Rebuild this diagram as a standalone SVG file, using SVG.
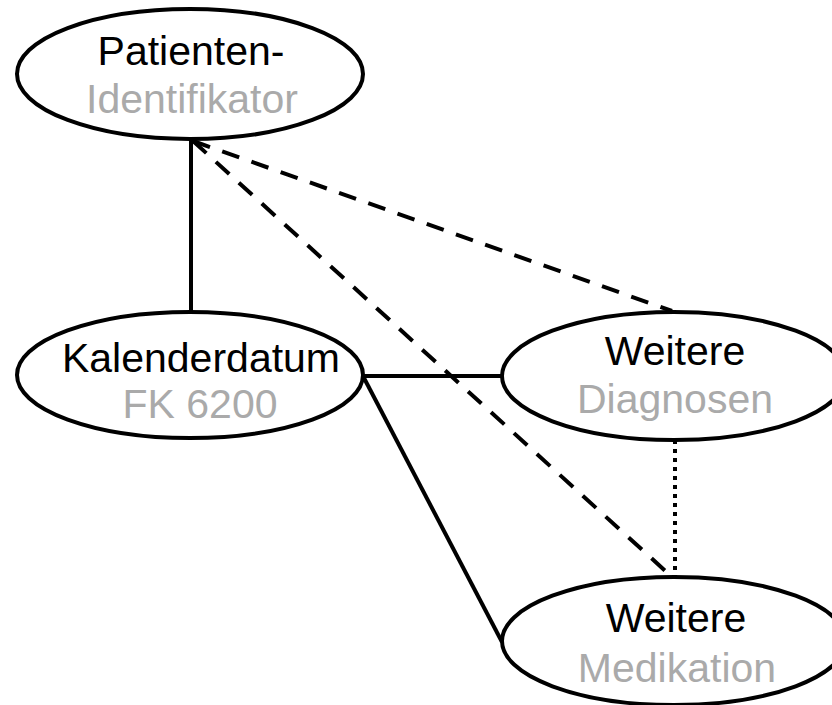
<svg xmlns="http://www.w3.org/2000/svg" width="832" height="705" viewBox="0 0 832 705">
<style>
.node ellipse{fill:#fff;stroke:#000;stroke-width:4}
text{font-family:"Liberation Sans",Arial,sans-serif;font-size:41px;text-anchor:middle}
.t1{fill:#000}
.t2{fill:#aaaaaa}
.solid{stroke:#000;stroke-width:4;fill:none}
.dash{stroke:#000;stroke-width:4;fill:none;stroke-dasharray:18 13}
.dot{stroke:#000;stroke-width:4;fill:none;stroke-dasharray:4 5}
</style>
<rect width="832" height="705" fill="#fff"/>
<g id="connectors">
<line class="solid" x1="191" y1="140" x2="191" y2="311"/>
<line class="dash" x1="193" y1="141" x2="672" y2="311"/>
<line class="dash" x1="193" y1="141" x2="672" y2="577"/>
<line class="solid" x1="363" y1="376" x2="502" y2="376"/>
<line class="solid" x1="364" y1="378" x2="502" y2="642"/>
<line class="dot" x1="675" y1="440" x2="675" y2="577"/>
</g>
<g id="patienten" class="node">
<ellipse cx="190" cy="74" rx="173" ry="65"/>
<text class="t1" x="191" y="65">Patienten-</text>
<text class="t2" x="192" y="113">Identifikator</text>
</g>
<g id="kalenderdatum" class="node">
<ellipse cx="190" cy="375" rx="173" ry="63"/>
<text class="t1" x="201" y="372">Kalenderdatum</text>
<text class="t2" x="200" y="418">FK 6200</text>
</g>
<g id="diagnosen" class="node">
<ellipse cx="674" cy="376" rx="172" ry="64"/>
<text class="t1" x="675" y="365">Weitere</text>
<text class="t2" x="675" y="413">Diagnosen</text>
</g>
<g id="medikation" class="node">
<ellipse cx="674" cy="641" rx="172" ry="64"/>
<text class="t1" x="676" y="632">Weitere</text>
<text class="t2" x="677" y="682">Medikation</text>
</g>
</svg>
